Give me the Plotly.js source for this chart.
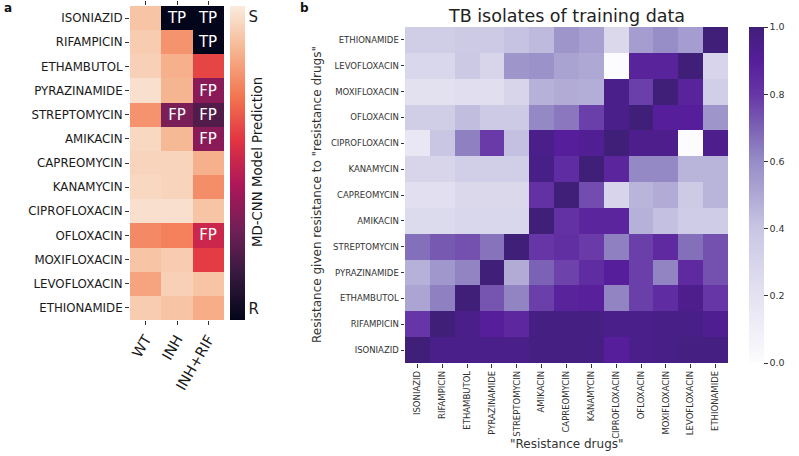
<!DOCTYPE html>
<html>
<head>
<meta charset="utf-8">
<script src="https://cdn.plot.ly/plotly-3.0.1.min.js"></script>
<style>html,body{margin:0;padding:0;background:#fff;}#chart{width:799px;height:456px;}</style>
</head>
<body>
<div id="chart"></div>
<script>
// ---------- Panel a data ----------
const drugs = ['ISONIAZID','RIFAMPICIN','ETHAMBUTOL','PYRAZINAMIDE','STREPTOMYCIN','AMIKACIN','CAPREOMYCIN','KANAMYCIN','CIPROFLOXACIN','OFLOXACIN','MOXIFLOXACIN','LEVOFLOXACIN','ETHIONAMIDE'];
const strains = ['WT','INH','INH+RIF'];
// model prediction score (1 = S, 0 = R)
const predWT     = [0.90,0.92,0.93,0.97,0.78,0.95,0.94,0.95,0.97,0.76,0.90,0.82,0.92];
const predINH    = [0.00,0.78,0.85,0.86,0.31,0.87,0.94,0.94,0.97,0.74,0.92,0.93,0.90];
const predINHRIF = [0.00,0.00,0.61,0.35,0.21,0.35,0.85,0.77,0.90,0.51,0.59,0.90,0.84];
const labWT      = ['','','','','','','','','','','','',''];
const labINH     = ['TP','','','','FP','','','','','','','',''];
const labINHRIF  = ['TP','TP','','FP','FP','FP','','','','FP','','',''];

// ---------- Panel b data (rows = "given" drug, bottom to top; columns = resistance drugs) ----------
const resDrugs = ['ISONIAZID','RIFAMPICIN','ETHAMBUTOL','PYRAZINAMIDE','STREPTOMYCIN','AMIKACIN','CAPREOMYCIN','KANAMYCIN','CIPROFLOXACIN','OFLOXACIN','MOXIFLOXACIN','LEVOFLOXACIN','ETHIONAMIDE'];
const rowISO = [1.00,0.95,0.95,0.95,0.95,0.97,0.97,0.97,0.90,0.95,0.96,0.97,0.97];
const rowRIF = [0.80,1.00,0.95,0.90,0.86,0.97,0.97,0.97,0.95,0.95,0.96,0.96,0.93];
const rowEMB = [0.51,0.63,1.00,0.73,0.62,0.78,0.88,0.89,0.62,0.78,0.84,0.94,0.80];
const rowPZA = [0.47,0.56,0.62,1.00,0.49,0.70,0.77,0.84,0.90,0.78,0.62,0.85,0.74];
const rowSTR = [0.67,0.72,0.74,0.66,1.00,0.80,0.83,0.79,0.63,0.78,0.85,0.67,0.74];
const rowAMK = [0.26,0.26,0.28,0.28,0.28,1.00,0.82,0.87,0.87,0.47,0.42,0.36,0.36];
const rowCAP = [0.22,0.22,0.27,0.27,0.27,0.82,1.00,0.75,0.30,0.46,0.49,0.37,0.46];
const rowKAN = [0.29,0.29,0.34,0.34,0.34,0.96,0.84,1.00,0.87,0.61,0.61,0.46,0.46];
const rowCIP = [0.16,0.40,0.63,0.79,0.42,0.95,0.90,0.92,1.00,0.94,0.94,0.00,0.94];
const rowOFX = [0.35,0.35,0.43,0.37,0.37,0.61,0.65,0.78,0.95,1.00,0.90,0.90,0.57];
const rowMXF = [0.21,0.21,0.23,0.23,0.29,0.47,0.49,0.48,0.95,0.78,1.00,0.88,0.34];
const rowLVX = [0.28,0.28,0.38,0.29,0.57,0.58,0.52,0.50,0.00,0.88,0.88,1.00,0.30];
const rowETO = [0.35,0.35,0.37,0.37,0.41,0.44,0.57,0.53,0.27,0.54,0.60,0.54,1.00];
const cbTicks = [0,0.2,0.4,0.6,0.8,1.0];

// ---------- colour scales ----------
const rocket = [
  [0.0,'#03051a'],[0.143,'#35193e'],[0.286,'#701f57'],[0.429,'#ad1759'],
  [0.571,'#e13342'],[0.714,'#f37651'],[0.857,'#f6b48f'],[1.0,'#faebdd']
];
const purples = [
  [0.0,'#fcfbfd'],[0.2,'#e4e2f1'],[0.4,'#c9c6e4'],[0.5,'#aea8d4'],
  [0.6,'#978dc7'],[0.7,'#7c62b5'],[0.8,'#6736a6'],[0.9,'#561e9a'],[1.0,'#3f1f78']
];

const zA = drugs.map((d,i)=>[predWT[i],predINH[i],predINHRIF[i]]);
const tA = drugs.map((d,i)=>[labWT[i],labINH[i],labINHRIF[i]]);
const zB = [rowISO,rowRIF,rowEMB,rowPZA,rowSTR,rowAMK,rowCAP,rowKAN,rowCIP,rowOFX,rowMXF,rowLVX,rowETO];

const W = 799, H = 456;
const px = v => v / W;
const py = v => 1 - v / H;

const traceA = {
  type:'heatmap', x:strains, y:drugs, z:zA, text:tA, texttemplate:'%{text}',
  textfont:{family:'DejaVu Sans', size:15, color:'white'},
  colorscale:rocket, zmin:0, zmax:1, xaxis:'x', yaxis:'y', hoverinfo:'skip',
  colorbar:{x:px(230), xanchor:'left', xpad:0, y:py(163), yanchor:'middle', len:314/H, lenmode:'fraction',
    ypad:0, thickness:15, outlinewidth:0, tickvals:[0.035,0.965], ticktext:['R','S'], ticks:'',
    tickfont:{family:'DejaVu Sans', size:15, color:'#1a1a1a'}}
};
const traceB = {
  type:'heatmap', x:resDrugs, y:resDrugs, z:zB,
  colorscale:purples, zmin:0, zmax:1, xaxis:'x2', yaxis:'y2', hoverinfo:'skip',
  colorbar:{x:px(749), xanchor:'left', xpad:0, y:py(195), yanchor:'middle', len:336/H, lenmode:'fraction',
    ypad:0, thickness:15, outlinewidth:0, tickvals:cbTicks, tickformat:'.1f', ticks:'outside', ticklen:4,
    tickcolor:'#333', tickfont:{family:'DejaVu Sans', size:9.5, color:'#333'}}
};

const axBase = {showgrid:false, zeroline:false, showline:false, automargin:false, ticks:'outside', tickcolor:'#333', fixedrange:true};
const layout = {
  width:W, height:H, margin:{l:0,r:0,t:0,b:0}, paper_bgcolor:'white', plot_bgcolor:'white',
  font:{family:'DejaVu Sans', color:'#222'}, showlegend:false,
  xaxis:Object.assign({}, axBase, {domain:[px(130),px(224)], anchor:'y', tickangle:-60, ticklen:4, mirror:'ticks',
    tickfont:{size:14.5, color:'#1a1a1a'}}),
  yaxis:Object.assign({}, axBase, {domain:[py(320),py(6)], anchor:'x', autorange:'reversed', ticklen:4,
    tickfont:{size:11.8, color:'#1a1a1a'}}),
  xaxis2:Object.assign({}, axBase, {domain:[px(405),px(728)], anchor:'y2', tickangle:-90, ticklen:3.5,
    tickfont:{size:8.5, color:'#333'}}),
  yaxis2:Object.assign({}, axBase, {domain:[py(363),py(27)], anchor:'x2', ticklen:3.5,
    tickfont:{size:8.5, color:'#333'}}),
  annotations:[
    {text:'<b>a</b>', x:px(2), y:py(8), xref:'paper', yref:'paper', xanchor:'left', yanchor:'middle', showarrow:false, font:{size:12, color:'#111'}},
    {text:'<b>b</b>', x:px(298), y:py(8), xref:'paper', yref:'paper', xanchor:'left', yanchor:'middle', showarrow:false, font:{size:12, color:'#111'}},
    {text:'TB isolates of training data', x:px(566.5), y:py(16), xref:'paper', yref:'paper', xanchor:'center', yanchor:'middle', showarrow:false, font:{size:17.5, color:'#222'}},
    {text:'"Resistance drugs"', x:px(566.5), y:py(444), xref:'paper', yref:'paper', xanchor:'center', yanchor:'middle', showarrow:false, font:{size:12, color:'#333'}},
    {text:'Resistance given resistance to "resistance drugs"', x:px(317), y:py(195), xref:'paper', yref:'paper', xanchor:'center', yanchor:'middle', textangle:-90, showarrow:false, font:{size:12, color:'#333'}},
    {text:'MD-CNN Model Prediction', x:px(257.5), y:py(162.5), xref:'paper', yref:'paper', xanchor:'center', yanchor:'middle', textangle:-90, showarrow:false, font:{size:13.3, color:'#1a1a1a'}}
  ]
};
Plotly.newPlot('chart', [traceA, traceB], layout, {staticPlot:true, displayModeBar:false});
</script>
</body>
</html>
